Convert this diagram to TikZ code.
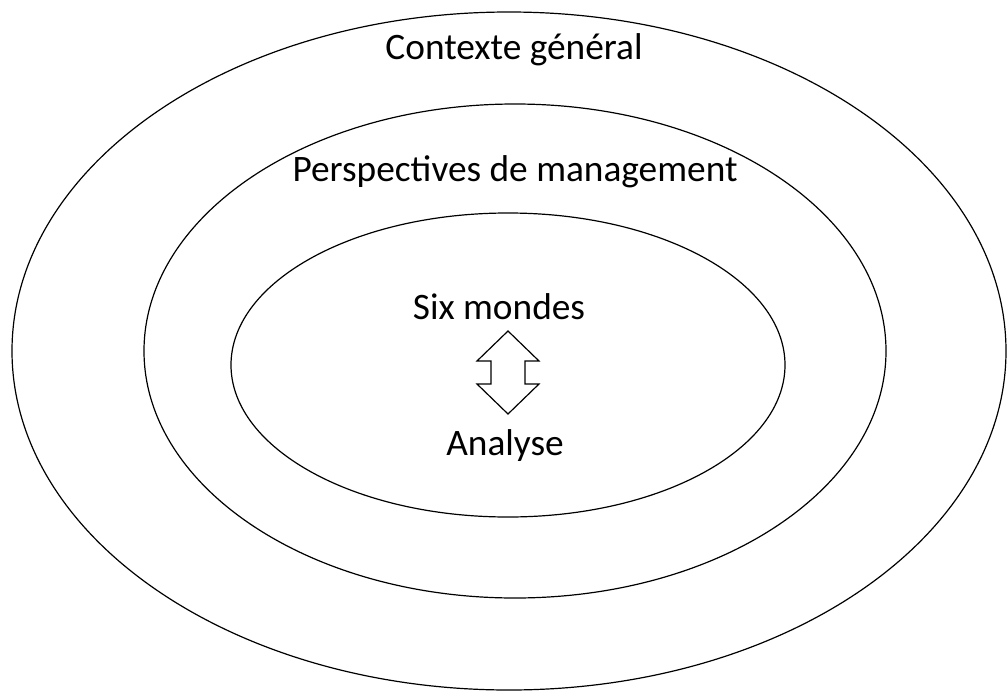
\documentclass[tikz,border=0pt]{standalone}
\usepackage{fontspec}
\setmainfont{Carlito}
\usetikzlibrary{positioning}

\begin{document}
\begin{tikzpicture}[x=0.75pt,y=-0.75pt,thick,
                    ring/.style={draw,line width=0.9pt},
                    label text/.style={anchor=base,font=\fontsize{28}{33}\selectfont}]
  \useasboundingbox (0,0) rectangle (1008,693);

  % the three layers
  \draw[ring] (509,351) ellipse [x radius=497, y radius=339];
  \draw[ring] (515,351) ellipse [x radius=371, y radius=247];
  \draw[ring] (508,365) ellipse [x radius=277, y radius=152];

  \node[label text] (context) at (514,59) {Contexte général};
  \node[label text] (persp) at (515,181) {Perspectives de management};
  \node[label text] (mondes) at (499,319) {Six mondes};
  \node[label text] (analyse) at (505,455) {Analyse};

  % double arrow between the two inner labels
  \draw[line width=0.9pt,line join=miter]
    (508,331) -- (539,361) -- (525,361) -- (525,384) -- (539,384)
    -- (508,414) -- (477,384) -- (491,384) -- (491,361) -- (477,361) -- cycle;
\end{tikzpicture}
\end{document}
